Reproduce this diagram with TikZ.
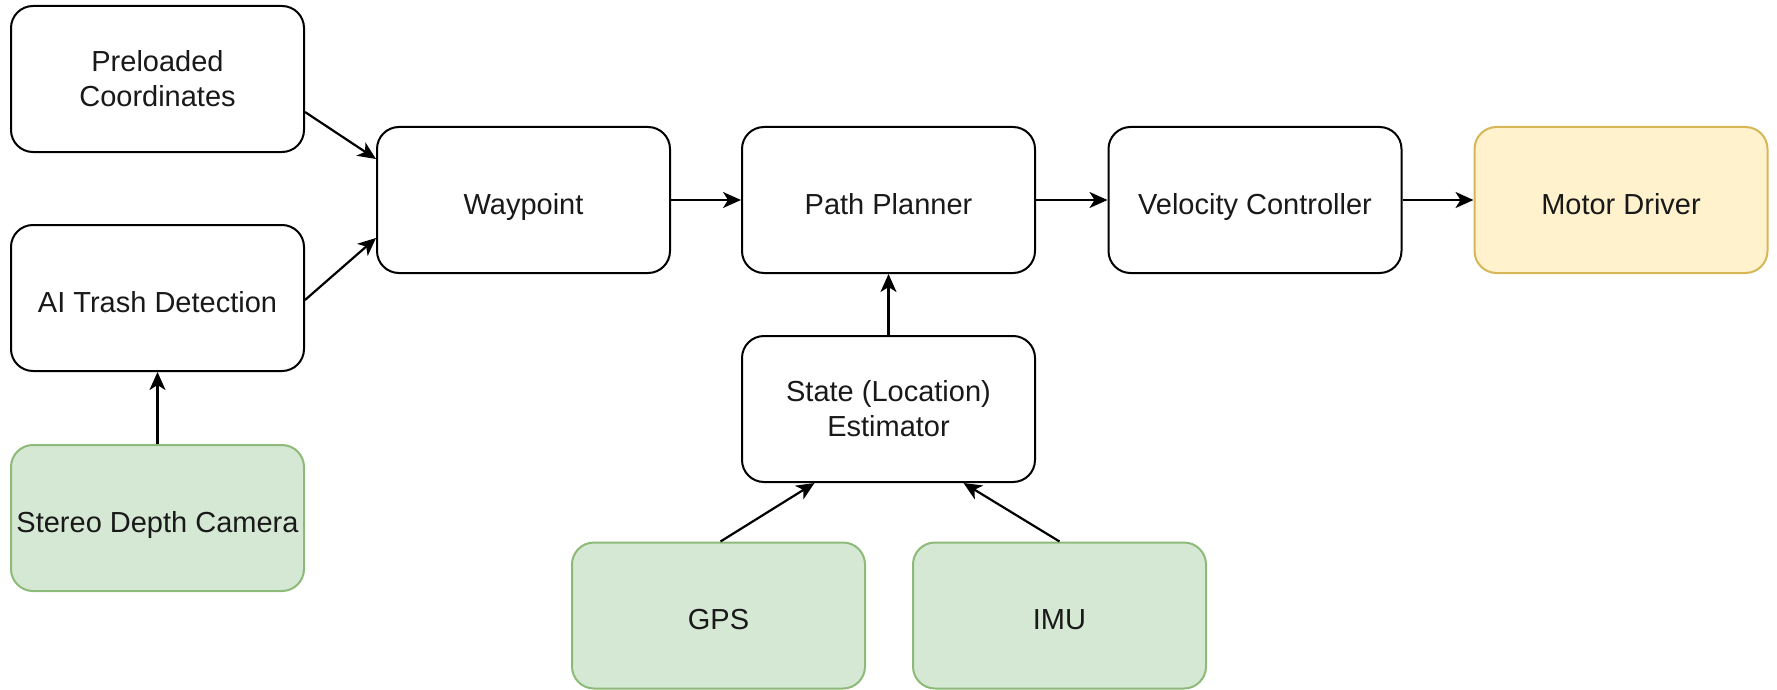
\documentclass[tikz,border=0pt]{standalone}
\usepackage{fontspec}
\setmainfont{Liberation Sans}
\usetikzlibrary{arrows.meta}
\definecolor{sensorfill}{HTML}{D5E8D4}
\definecolor{sensorline}{HTML}{8DBA78}
\definecolor{actfill}{HTML}{FFF2CC}
\definecolor{actline}{HTML}{D6B656}
\begin{document}
\begin{tikzpicture}[x=0.5pt,y=-0.5pt,
  block/.style={draw=black, line width=1pt, fill=white, rounded corners=11pt,
    minimum width=146.5pt, minimum height=73pt, inner sep=0pt, align=center,
    font=\fontsize{14.5}{17.5}\selectfont, text=black!90},
  oneline/.style={text height=14pt, text depth=0pt},
  sensor/.style={block, draw=sensorline, fill=sensorfill},
  actuator/.style={block, draw=actline, fill=actfill},
  flow/.style={-{Stealth[length=9pt,width=8pt,inset=2.5pt]}, line width=1.1pt, black}]
\useasboundingbox (0,0) rectangle (1777,690);

% input and processing blocks
\node[block]            (pre)    at (157.5,79)   {Preloaded\\Coordinates};
\node[block,oneline]    (ai)     at (157.5,298)  {AI Trash Detection};
\node[sensor,oneline]   (stereo) at (157.5,518)  {Stereo Depth Camera};
\node[block,oneline]    (way)    at (523.5,200)  {Waypoint};
\node[block,oneline]    (path)   at (888.5,200)  {Path Planner};
\node[block,oneline]    (vel)    at (1255,200)   {Velocity Controller};
\node[actuator,oneline] (motor)  at (1621,200)   {Motor Driver};
\node[block]            (state)  at (888.5,409)  {State (Location)\\Estimator};
\node[sensor,oneline]   (gps)    at (718.5,615.5)  {GPS};
\node[sensor,oneline]   (imu)    at (1059.5,615.5) {IMU};

% signal flow
\draw[flow] ([yshift=-16.5pt]pre.east) -- ([yshift=20.5pt]way.west);
\draw[flow] ([yshift=-1pt]ai.east) -- ([yshift=-19pt]way.west);
\draw[flow] (stereo.north) -- (ai.south);
\draw[flow] (way.east) -- (path.west);
\draw[flow] (path.east) -- (vel.west);
\draw[flow] (vel.east) -- (motor.west);
\draw[flow] (state.north) -- (path.south);
\draw[flow] ([xshift=1pt]gps.north) -- ([xshift=-37pt]state.south);
\draw[flow] (imu.north) -- ([xshift=37.5pt]state.south);
\end{tikzpicture}
\end{document}
